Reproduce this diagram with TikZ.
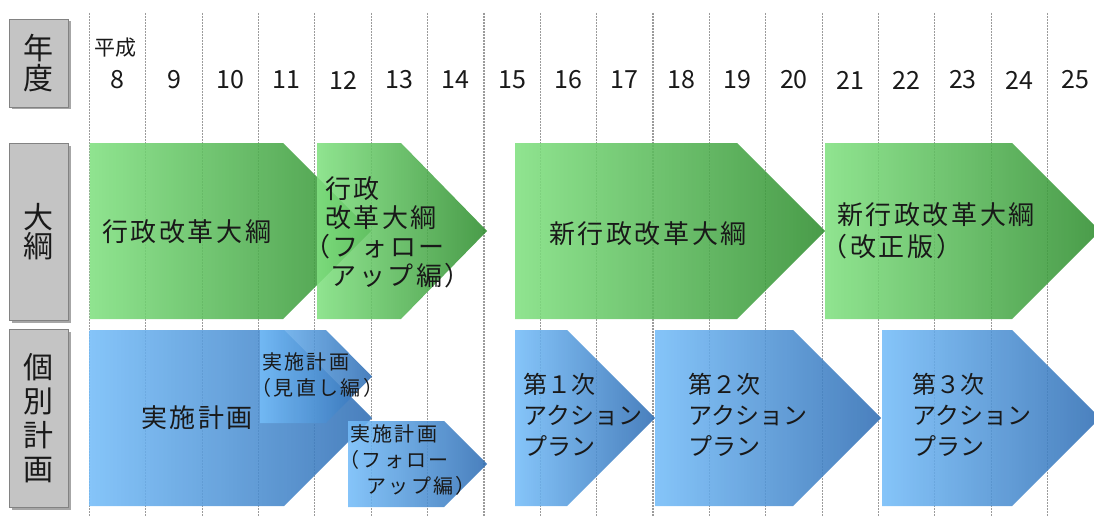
\documentclass[tikz,border=0pt]{standalone}
\usepackage{fontspec}
\setmainfont{Noto Sans CJK JP}
\newfontfamily\jpls[LetterSpace=10]{Noto Sans CJK JP}
\newfontfamily\jplss[LetterSpace=12]{Noto Sans CJK JP}
\usetikzlibrary{shadows}
\definecolor{gL}{RGB}{128,224,128}
\definecolor{gR}{RGB}{48,142,48}
\definecolor{bL}{RGB}{116,188,248}
\definecolor{bR}{RGB}{48,110,180}
\definecolor{boxfill}{RGB}{196,196,196}
\definecolor{boxline}{RGB}{130,130,130}
\definecolor{gridc}{RGB}{155,155,155}
\definecolor{ink}{RGB}{25,25,25}
\tikzset{
  gridline/.style={draw=gridc, line width=1.1pt, dash pattern=on 2pt off 1pt},
  garrow/.style={left color=gL, right color=gR, fill opacity=0.88, draw=none},
  barrow/.style={left color=bL, right color=bR, fill opacity=0.88, draw=none},
  hbox/.style={fill=boxfill, draw=boxline, line width=0.8pt, inner sep=0pt,
    minimum width=59pt, text=ink,
    drop shadow={shadow xshift=2.5pt, shadow yshift=-2.5pt, opacity=0.35, fill=black}},
  yearlbl/.style={inner sep=0pt, text=ink, font=\fontsize{25}{25}\selectfont},
  bigtxt/.style={inner sep=0pt, text=ink, align=left, font=\jpls\fontsize{26}{29}\selectfont},
  smalltxt/.style={inner sep=0pt, text=ink, align=left, font=\jplss\fontsize{20}{26}\selectfont},
  plantxt/.style={inner sep=0pt, text=ink, align=left, font=\fontsize{24}{31}\selectfont},
}
\begin{document}
\begin{tikzpicture}[x=1pt,y=-1pt]
\useasboundingbox (0,0) rectangle (1094,516);
\clip (0,0) rectangle (1094,516);
% grid lines
\foreach \k in {0,...,17} {
  \draw[gridline] ({89.5+56.35*\k},13) -- ({89.5+56.35*\k},516);
}
% header boxes
\node[hbox, minimum height=88pt, font=\fontsize{30}{30}\selectfont, align=center] (hyear) at (38.5,63) {年\\度};
\node[hbox, minimum height=177pt, font=\fontsize{30}{29}\selectfont, align=center] (hplan) at (38.5,231.5) {大\\綱};
\node[hbox, minimum height=178pt, font=\fontsize{30}{34}\selectfont, align=center] (hind) at (38.5,418) {個\\別\\計\\画};
% years
\node[inner sep=0pt, text=ink, font=\fontsize{21}{21}\selectfont] (heisei) at (115,48) {平成};
\foreach \k [evaluate=\k as \yr using int(\k+8)] in {0,...,17} {
  \node[yearlbl] (y\k) at ({117.7+56.35*\k},80) {\yr};
}
% green arrows
\path[garrow] (89.5,143) -- (283,143) -- (371,231) -- (283,319) -- (89.5,319) -- cycle;
\path[garrow] (317,143) -- (401,143) -- (487,231) -- (401,319) -- (317,319) -- cycle;
\path[garrow] (515,143) -- (737,143) -- (825,231) -- (737,319) -- (515,319) -- cycle;
\path[garrow] (825,143) -- (1012,143) -- (1100,231) -- (1012,319) -- (825,319) -- cycle;
% blue arrows
\path[barrow] (89.5,330) -- (284,330) -- (372,418) -- (284,506) -- (89.5,506) -- cycle;
\path[barrow] (260,330) -- (326,330) -- (372,376.5) -- (326,423) -- (260,423) -- cycle;
\path[barrow] (348,421) -- (444,421) -- (487,464) -- (444,507) -- (348,507) -- cycle;
\path[barrow] (515,330) -- (567,330) -- (655,418) -- (567,506) -- (515,506) -- cycle;
\path[barrow] (655,330) -- (793,330) -- (881,418) -- (793,506) -- (655,506) -- cycle;
\path[barrow] (882,330) -- (1012,330) -- (1100,418) -- (1012,506) -- (882,506) -- cycle;
% texts
\node[bigtxt, anchor=west] (t1) at (102,232) {行政改革大綱};
\node[bigtxt, anchor=west] (t2) at (325,232) {行政\\改革大綱\\\hspace*{-0.8em}（フォロー\\\hspace*{0.2em}アップ編）};
\node[bigtxt] (t3) at (648,234) {新行政改革大綱};
\node[bigtxt, anchor=west, font=\jpls\fontsize{26}{32}\selectfont] (t4) at (837,231) {新行政改革大綱\\\hspace*{-0.6em}（改正版）};
\node[bigtxt] (t5) at (197,418) {実施計画};
\node[smalltxt, anchor=west] (t6) at (262,375) {実施計画\\\hspace*{-0.55em}（見直し編）};
\node[smalltxt, anchor=west] (t7) at (350,460) {実施計画\\\hspace*{-0.55em}（フォロー\\\hspace*{0.8em}アップ編）};
\node[plantxt, anchor=west] (t8) at (523,415) {第１次\\アクション\\プラン};
\node[plantxt, anchor=west] (t9) at (688,415) {第２次\\アクション\\プラン};
\node[plantxt, anchor=west] (t10) at (912,415) {第３次\\アクション\\プラン};
\end{tikzpicture}
\end{document}
